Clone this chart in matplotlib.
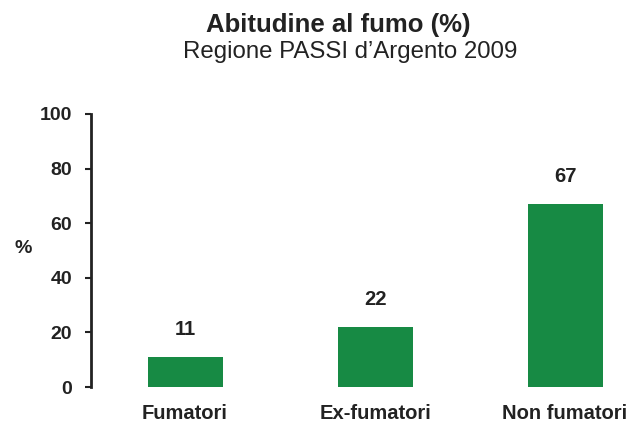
import matplotlib
matplotlib.use("Agg")
import matplotlib.pyplot as plt

categories = ["Fumatori", "Ex-fumatori", "Non fumatori"]
values = [11, 22, 67]
yticks = [0, 20, 40, 60, 80, 100]

plt.rcParams['font.family'] = ['Liberation Sans', 'DejaVu Sans']
W, H = 637, 423
fig = plt.figure(figsize=(W/100, H/100), dpi=100)
left_px, bottom_px, top_px = 91, 387, 114
x0, x1 = -0.495, 2.35
pxu = 190
ax = fig.add_axes([left_px/W, 1-bottom_px/H, (x1-x0)*pxu/W, (bottom_px-top_px)/H])
color = "#178a44"
xs = range(len(categories))
bars = ax.bar(xs, values, width=0.395, color=color)
for x, v in zip(xs, values):
    ax.annotate(f"{v}", (x, v), xytext=(0, 13), textcoords="offset points",
                ha="center", va="bottom", fontsize=14.5, fontweight="bold", color="#222222")
ax.set_xlim(x0, x1)
ax.set_ylim(0, 100)
ax.set_yticks(yticks)
ax.set_yticklabels([str(t) for t in yticks], fontsize=14, fontweight="bold", color="#222222")
ax.set_xticks(list(xs))
ax.set_xticklabels(categories, fontsize=14.5, fontweight="bold", color="#222222")
ax.tick_params(axis="x", length=0, pad=12)
ax.tick_params(axis="y", length=4, width=1.5, color="#222222", pad=9.5)
for s in ["top", "right", "bottom"]:
    ax.spines[s].set_visible(False)
ax.spines["left"].set_linewidth(2)
ax.spines["left"].set_color("#222222")
fig.text(23/W, 1-248/H, "%", fontsize=14, fontweight="bold", ha="center", va="center", color="#222222")
fig.text(338/W, 1-32/H, "Abitudine al fumo (%)", fontsize=18.5, fontweight="bold", ha="center", va="baseline", color="#222222")
fig.text(350/W, 1-58/H, "Regione PASSI d\u2019Argento 2009", fontsize=17.3, ha="center", va="baseline", color="#222222")
fig.savefig("out.png", dpi=100)
